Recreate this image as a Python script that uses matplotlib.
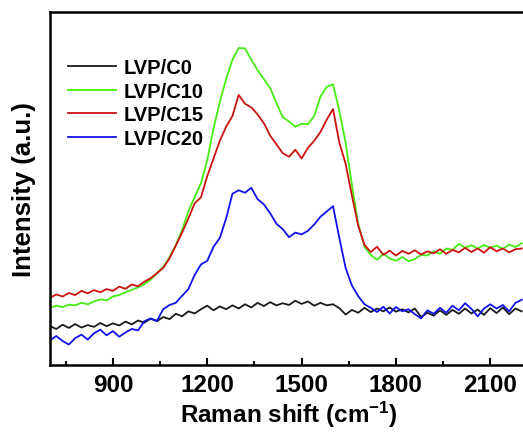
import numpy as np
import matplotlib
matplotlib.use('Agg')
import matplotlib.pyplot as plt
from matplotlib.ticker import MultipleLocator

plt.rcParams['font.family'] = ['Liberation Sans', 'DejaVu Sans']
plt.rcParams['font.weight'] = 'bold'
plt.rcParams['mathtext.fontset'] = 'custom'
plt.rcParams['mathtext.rm'] = 'Liberation Sans:bold'
plt.rcParams['mathtext.bf'] = 'Liberation Sans:bold'
plt.rcParams['mathtext.default'] = 'bf'

# Raman shift grid (cm^-1)
shift = np.arange(700, 2201, 20)

# Intensities (arbitrary units)
lvp_c0 = [11.0, 10.2, 11.4, 10.5, 11.6, 10.6, 11.3, 10.8, 11.9, 11.0,
          11.8, 11.2, 12.3, 11.5, 12.6, 12.0, 13.1, 12.4, 13.6, 13.0,
          14.5, 13.8, 15.2, 14.6, 15.8, 16.8, 15.5, 16.6, 15.8, 16.9,
          16.0, 17.2, 16.3, 17.6, 16.7, 17.8, 16.9, 17.5, 17.0, 18.2,
          17.3, 18.0, 16.8, 17.6, 16.9, 17.2, 16.1, 14.3, 15.6, 14.8,
          16.2, 15.0, 16.0, 15.2, 16.3, 15.1, 15.8, 14.9, 16.0, 13.6,
          14.8, 14.0, 15.5, 14.2, 15.6, 14.5, 16.0, 14.6, 15.7, 14.2,
          16.1, 14.7, 16.3, 14.4, 16.0, 15.2]
lvp_c10 = [16.2, 16.8, 16.4, 17.1, 16.9, 17.6, 17.2, 18.0, 18.6, 18.3,
           19.4, 19.8, 20.6, 21.3, 22.0, 22.9, 24.2, 26.0, 27.8, 30.5,
           34.0, 38.2, 43.5, 47.6, 51.5, 58.0, 67.0, 74.5, 81.0, 86.5,
           89.8, 89.7, 86.5, 83.5, 81.0, 78.5, 74.2, 70.2, 69.0, 67.5,
           68.3, 68.2, 70.5, 76.0, 78.8, 79.5, 72.0, 63.0, 51.0, 40.0,
           33.5, 31.2, 29.8, 31.5, 30.2, 29.5, 30.6, 29.4, 30.0, 31.2,
           31.0, 32.2, 31.5, 33.0, 32.6, 34.3, 33.2, 33.9, 33.0, 34.0,
           33.2, 33.8, 32.9, 34.1, 33.4, 34.5]
lvp_c15 = [19.0, 20.0, 19.4, 20.4, 19.8, 21.0, 20.3, 21.2, 20.6, 21.5,
           21.0, 22.2, 21.6, 22.8, 22.3, 23.6, 24.6, 26.0, 27.5, 30.2,
           33.8, 37.5, 41.5, 45.8, 47.5, 53.5, 58.5, 63.5, 67.5, 70.5,
           76.5, 74.0, 73.0, 71.0, 68.5, 65.0, 62.5, 60.0, 59.0, 61.0,
           58.5, 61.5, 63.5, 66.0, 69.5, 72.5, 63.0, 57.0, 48.0, 39.5,
           34.0, 32.0, 33.5, 31.2, 32.4, 31.0, 32.3, 31.5, 32.5, 31.3,
           32.2, 31.6, 32.8, 31.5, 32.6, 31.9, 33.2, 32.0, 33.0, 31.8,
           33.4, 32.2, 33.0, 31.9, 32.8, 33.0]
lvp_c20 = [7.0, 8.2, 6.8, 5.8, 7.6, 8.6, 7.2, 9.0, 10.0, 8.4,
           9.6, 8.0, 9.2, 10.2, 9.8, 12.4, 13.2, 12.5, 15.8, 17.0,
           17.6, 19.6, 21.5, 25.5, 28.5, 29.5, 33.5, 36.0, 41.5, 48.5,
           49.5, 48.8, 50.2, 47.0, 45.5, 43.0, 40.0, 38.5, 36.2, 37.5,
           37.0, 38.0, 39.8, 42.0, 43.5, 45.0, 36.0, 27.5, 22.5, 19.5,
           17.2, 16.2, 15.0, 16.5, 14.6, 16.4, 15.2, 15.8, 14.4, 13.2,
           15.5, 14.5, 16.2, 14.8, 16.8, 15.5, 17.5, 15.9, 13.8, 16.0,
           17.2, 16.0, 17.0, 15.2, 17.6, 18.5]

labels = ['LVP/C0', 'LVP/C10', 'LVP/C15', 'LVP/C20']
series = [lvp_c0, lvp_c10, lvp_c15, lvp_c20]
colors = ['#1a1a1a', '#44ee11', '#cc1111', '#1111ee']

fig = plt.figure(figsize=(5.23, 4.39), dpi=100)
ax = fig.add_axes([0.0956, 0.1663, 0.914, 0.8041])

for vals, lab, col in zip(series, labels, colors):
    ax.plot(shift, vals, color=col, lw=1.3, label=lab)

ax.set_xlim(700, 2220)
ax.set_ylim(0, 100)
ax.xaxis.set_minor_locator(MultipleLocator(150))
ax.set_xticks([900, 1200, 1500, 1800, 2100])
ax.tick_params(axis='x', which='major', direction='in', length=5, width=1.5,
               labelsize=17.5, pad=6)
ax.tick_params(axis='x', which='minor', direction='in', length=3, width=1.5)
ax.set_yticks([])
for sp in ax.spines.values():
    sp.set_linewidth(1.8)

ax.set_xlabel('Raman shift (cm$^{-1}$)', fontsize=17.5, fontweight='bold', labelpad=2)
ax.set_ylabel('Intensity (a.u.)', fontsize=18.5, fontweight='bold', labelpad=10)

leg = ax.legend(loc='upper left', bbox_to_anchor=(0.0, 0.92), frameon=False,
                prop={'size': 14.5, 'weight': 'bold'}, handlelength=2.4,
                labelspacing=0.22, handletextpad=0.35)

fig.savefig('out.png', dpi=100)
